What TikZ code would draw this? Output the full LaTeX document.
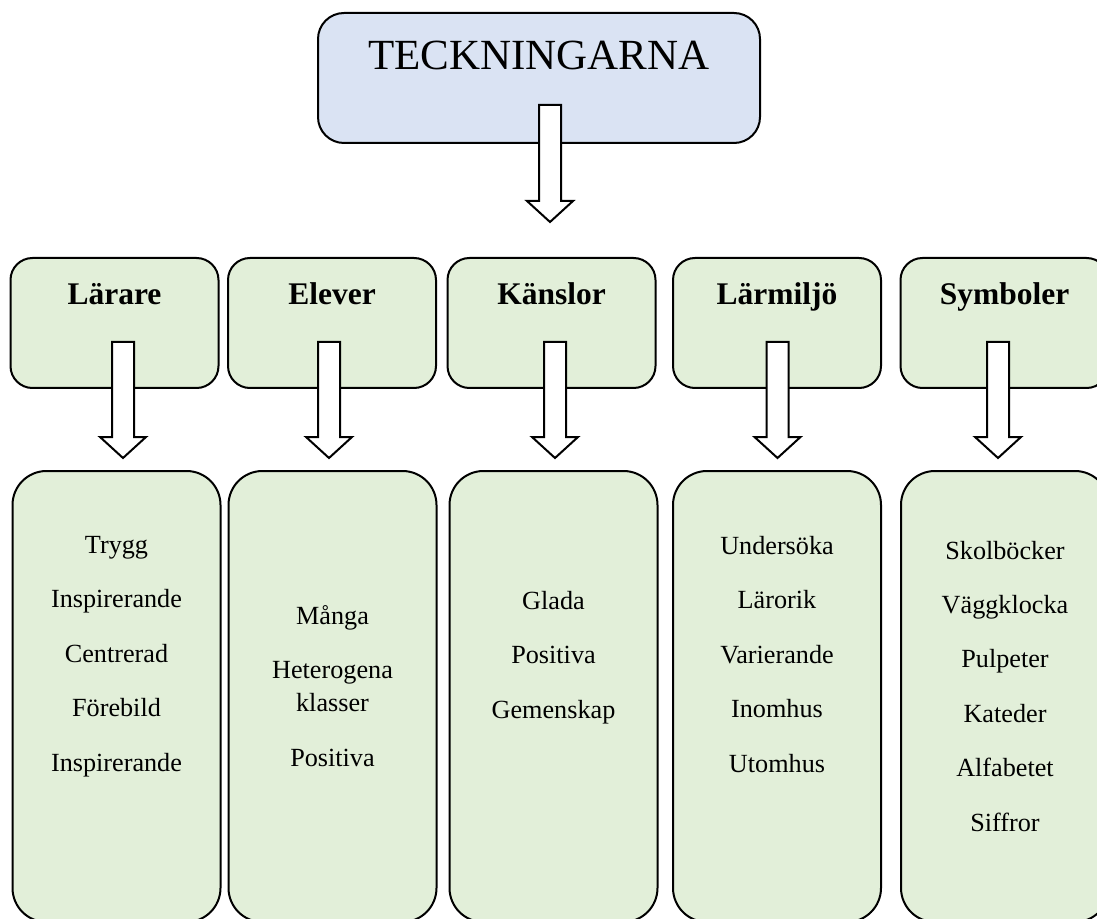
\documentclass[tikz,border=0pt]{standalone}
\usepackage{fontspec}
\setmainfont{Liberation Serif}
\usetikzlibrary{calc}
\definecolor{boxblue}{HTML}{DAE3F3}
\definecolor{boxgreen}{HTML}{E2EFD9}

\begin{document}
\begin{tikzpicture}[x=0.5pt,y=-0.5pt,
		topbox/.style={draw,line width=1pt,fill=boxblue,rounded corners=13pt,minimum width=221pt,minimum height=65pt,inner sep=0pt},
		headbox/.style={draw,line width=1pt,fill=boxgreen,rounded corners=11pt,minimum width=104pt,minimum height=65pt,inner sep=0pt},
		listbox/.style={draw,line width=1pt,fill=boxgreen,rounded corners=17pt,minimum width=104pt,minimum height=225.5pt,inner sep=0pt},
		headtext/.style={anchor=base,inner sep=0pt,font=\fontsize{15.75}{19}\selectfont\bfseries},
		listtext/.style={anchor=base,inner sep=0pt,align=center,font=\fontsize{13.1}{16.5}\selectfont},
		arrowline/.style={line width=1pt,draw=black,fill=white,line join=miter}]
			\useasboundingbox (0,0) rectangle (1097,919);
			\clip (0,0) rectangle (1097,919);
			% top box
			\node[topbox] (tk) at (539,78) {};
			\node[anchor=base,inner sep=0pt,font=\fontsize{21.5}{26}\selectfont] (tktext) at (539,70) {TECKNINGARNA};
			% row of headings
			\node[headbox] (lar) at (114.5,323) {};
			\node[headbox] (elv) at (332,323) {};
			\node[headbox] (kns) at (551.5,323) {};
			\node[headbox] (lmj) at (777,323) {};
			\node[headbox] (sym) at (1004.5,323) {};
			\node[headtext] (lartext) at ($(lar.north)+(0,48)$) {Lärare};
			\node[headtext] (elvtext) at ($(elv.north)+(0,48)$) {Elever};
			\node[headtext] (knstext) at ($(kns.north)+(0,48)$) {Känslor};
			\node[headtext] (lmjtext) at ($(lmj.north)+(0,48)$) {Lärmiljö};
			\node[headtext] (symtext) at ($(sym.north)+(0,48)$) {Symboler};
			% row of lists (base = last line)
			\node[listbox] (larlist) at (116.5,696.5) {};
			\node[listbox] (elvlist) at (332.5,696.5) {};
			\node[listbox] (knslist) at (553.5,696.5) {};
			\node[listbox] (lmjlist) at (777,696.5) {};
			\node[listbox] (symlist) at (1005,696.5) {};
			\node[listtext] (lartxt) at ($(larlist.north)+(0,301)$) {Trygg\\[10.7pt] Inspirerande\\[10.7pt] Centrerad\\[10.7pt] Förebild\\[10.7pt] Inspirerande};
			\node[listtext] (elvtxt) at ($(elvlist.north)+(0,296)$) {Många\\[10.7pt] Heterogena\\ klasser\\[10.7pt] Positiva};
			\node[listtext] (knstxt) at ($(knslist.north)+(0,248)$) {Glada\\[10.7pt] Positiva\\[10.7pt] Gemenskap};
			\node[listtext] (lmjtxt) at ($(lmjlist.north)+(0,302)$) {Undersöka\\[10.7pt] Lärorik\\[10.7pt] Varierande\\[10.7pt] Inomhus\\[10.7pt] Utomhus};
			\node[listtext] (symtxt) at ($(symlist.north)+(0,361)$) {Skolböcker\\[10.7pt] Väggklocka\\[10.7pt] Pulpeter\\[10.7pt] Kateder\\[10.7pt] Alfabetet\\[10.7pt] Siffror};
			% hollow arrows
			\coordinate (tk-s) at (550,105);
			\coordinate (tk-t) at (550,222);
			\foreach \b/\ax in {lar/123,elv/329,kns/555,lmj/777.5,sym/998} {
				\coordinate (\b-s) at (\ax,342);
				\coordinate (\b-t) at (\ax,458);
			}
			\foreach \b in {tk,lar,elv,kns,lmj,sym} {
				\draw[arrowline] let \p1=(\b-s), \p2=(\b-t) in
					(\x1-5.5pt,\y1) -- (\x1+5.5pt,\y1) -- (\x1+5.5pt,\y2+10.5pt) -- (\x1+11.5pt,\y2+10.5pt)
					-- (\p2) -- (\x1-11.5pt,\y2+10.5pt) -- (\x1-5.5pt,\y2+10.5pt) -- cycle;
			}
\end{tikzpicture}
\end{document}
